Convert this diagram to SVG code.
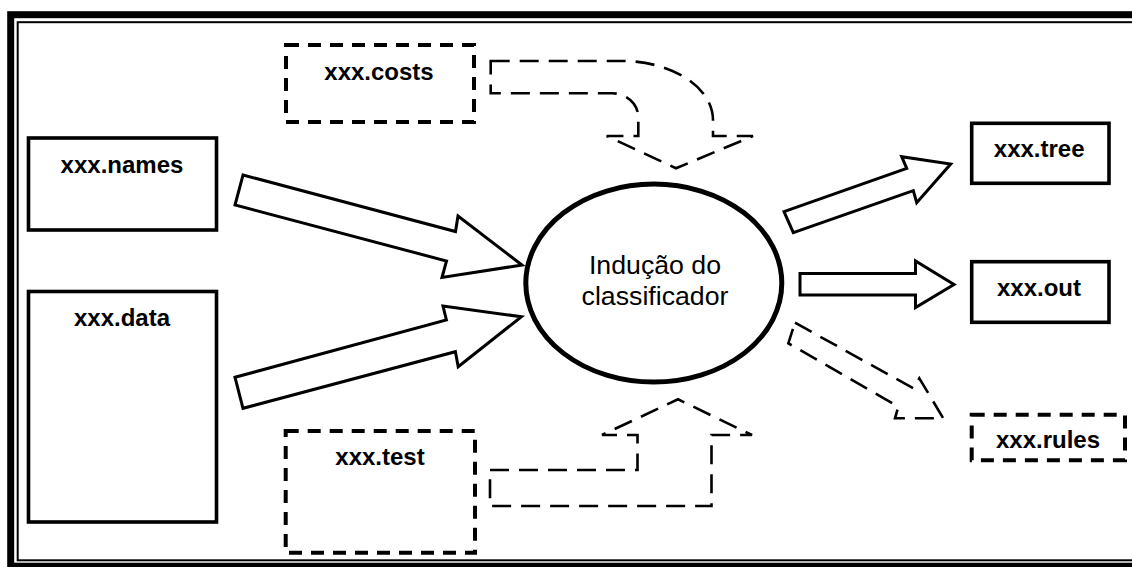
<svg xmlns="http://www.w3.org/2000/svg" width="1132" height="567" viewBox="0 0 1132 567">
  <style>
    .frame-outer { fill: none; stroke: #000; stroke-width: 7; }
    .frame-inner { fill: none; stroke: #000; stroke-width: 2; }
    .box { fill: #fff; stroke: #000; stroke-width: 3.6; }
    .box-dash { fill: #fff; stroke: #000; stroke-width: 4; stroke-dasharray: 13 9; }
    .arrow { fill: #fff; stroke: #000; stroke-width: 3; stroke-linejoin: miter; }
    .arrow-dash { fill: #fff; stroke: #000; stroke-width: 2.6; stroke-dasharray: 19 10; }
    .proc { fill: #fff; stroke: #000; stroke-width: 5; }
    .lbl { font-family: "Liberation Sans", Arial, sans-serif; font-weight: bold; font-size: 24px; text-anchor: middle; fill: #000; }
    .proc-lbl { font-family: "Liberation Sans", Arial, sans-serif; font-size: 26.7px; text-anchor: middle; fill: #000; }
  </style>

  <rect width="1132" height="567" fill="#fff"/>

  <!-- double page border (right side runs past the canvas) -->
  <rect class="frame-outer" x="10.7" y="14.7" width="1140" height="551.5"/>
  <rect class="frame-inner" x="17.7" y="22.2" width="1125" height="538.1"/>

  <!-- connectors -->
  <g id="connectors">
    <!-- xxx.names -> classifier -->
    <polygon class="arrow" points="243,175 455.5,231.5 458,216 522,265 442,277.5 446.5,261 235,205"/>
    <!-- xxx.data -> classifier -->
    <polygon class="arrow" points="235,377.3 446.4,320 443,306 521.4,316.7 458.2,366.7 455.4,351.7 243,408.3"/>
    <!-- xxx.costs -> classifier (optional, bent) -->
    <path class="arrow-dash" d="M490.7,61 H622 A91,59 0 0 1 713,120 V136 H753 L676,168.3 L606.7,136 H638.3 V117 A26,24 0 0 0 612,93.3 H490.7 Z"/>
    <!-- xxx.test -> classifier (optional, bent) -->
    <polygon class="arrow-dash" points="490,470 637.5,470 637.5,435 602,435 678,399.3 752,435 711.5,435 711.5,506 490,506"/>
    <!-- classifier -> xxx.tree -->
    <polygon class="arrow" points="784,211.7 906.7,168.3 901.7,156.7 950.7,164 916.7,202.7 913.3,190.7 793.3,232.7"/>
    <!-- classifier -> xxx.out -->
    <polygon class="arrow" points="800,273.5 915.5,273.5 915.5,261 954,284.5 915.5,307.5 915.5,295 800,295"/>
    <!-- classifier -> xxx.rules (optional) -->
    <polygon class="arrow-dash" points="795,322.7 913.3,388.3 919.3,378.3 943.3,418.3 895,418.3 898.3,406.7 788.3,343.3"/>
  </g>

  <g id="node-names">
    <rect class="box" x="28.5" y="138" width="188" height="92"/>
    <text class="lbl" x="122" y="172.7">xxx.names</text>
  </g>

  <g id="node-data">
    <rect class="box" x="28.5" y="291.5" width="188" height="230.5"/>
    <text class="lbl" x="122" y="326">xxx.data</text>
  </g>

  <g id="node-costs">
    <rect class="box-dash" x="286" y="45" width="188" height="77"/>
    <text class="lbl" x="379" y="80">xxx.costs</text>
  </g>

  <g id="node-test">
    <rect class="box-dash" x="285.7" y="431" width="189.3" height="121.7"/>
    <text class="lbl" x="380" y="465">xxx.test</text>
  </g>

  <g id="node-classifier">
    <ellipse class="proc" cx="653.8" cy="283.1" rx="128" ry="99"/>
    <text class="proc-lbl" x="655" y="274">Indução do</text>
    <text class="proc-lbl" x="655" y="305">classificador</text>
  </g>

  <g id="node-tree">
    <rect class="box" x="971.7" y="123.3" width="137.3" height="60"/>
    <text class="lbl" x="1039.2" y="156.7">xxx.tree</text>
  </g>

  <g id="node-out">
    <rect class="box" x="971.7" y="261.7" width="137.3" height="60.6"/>
    <text class="lbl" x="1039" y="296">xxx.out</text>
  </g>

  <g id="node-rules">
    <rect class="box-dash" x="971.7" y="414.7" width="153.3" height="45.6"/>
    <text class="lbl" x="1048" y="448.3">xxx.rules</text>
  </g>
</svg>
